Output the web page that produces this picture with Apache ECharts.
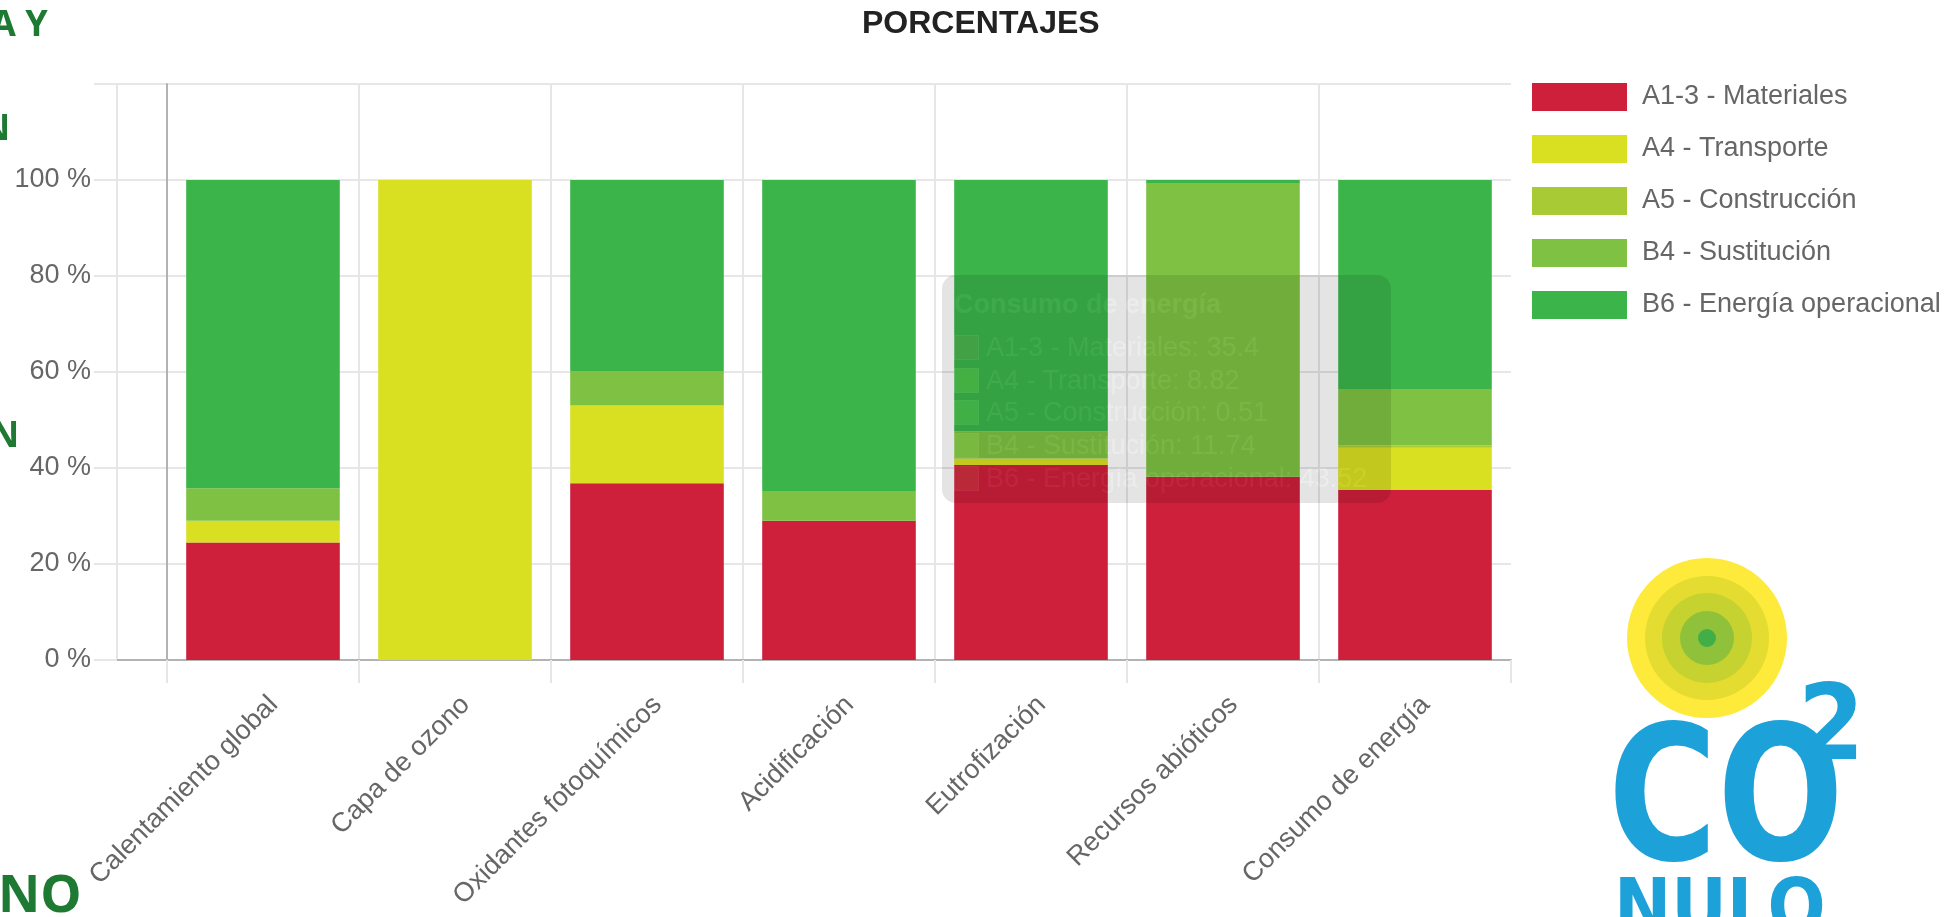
<!DOCTYPE html>
<html><head><meta charset="utf-8">
<script src="https://cdn.jsdelivr.net/npm/echarts@6/dist/echarts.min.js"></script>
<style>html,body{margin:0;padding:0;background:#fff;overflow:hidden}#c{width:1952px;height:917px}</style>
</head><body><div id="c"></div>
<script>
const categories = ['Calentamiento global', 'Capa de ozono', 'Oxidantes fotoquímicos', 'Acidificación', 'Eutrofización', 'Recursos abióticos', 'Consumo de energía'];
const seriesNames = ['A1-3 - Materiales', 'A4 - Transporte', 'A5 - Construcción', 'B4 - Sustitución', 'B6 - Energía operacional'];
const materiales   = [24.5, 0,   36.8, 29.0, 40.6, 38.2, 35.4];
const transporte   = [4.5,  100, 16.2, 0,    1.4,  0,    8.82];
const construccion = [0,    0,   0,    0,    0,    0,    0.51];
const sustitucion  = [6.8,  0,   7.2,  6.2,  5.6,  61.2, 11.74];
const energiaOp    = [64.2, 0,   39.8, 64.8, 52.4, 0.6,  43.52];
const yTickLabels  = ['0 %', '20 %', '40 %', '60 %', '80 %', '100 %', ''];
const colors = ['#CE1F3B', '#D9E021', '#A8CA35', '#7FC243', '#3BB54A'];
const values = [materiales, transporte, construccion, sustitucion, energiaOp];

const FONT = '"Liberation Sans", Arial, sans-serif';
const chart = echarts.init(document.getElementById('c'));
const grid = '#e6e6e6';
const vLineColors = [grid, grid, grid, grid, grid, grid, grid, 'rgba(0,0,0,0)'];

const option = {
  animation: false,
  textStyle: { fontFamily: FONT },
  title: {
    text: 'PORCENTAJES', left: 862, top: 0, padding: [8, 0, 0, 0],
    textStyle: { fontSize: 32, fontWeight: 'bold', color: '#222', fontFamily: FONT }
  },
  legend: {
    orient: 'vertical', left: 1532, top: 83, padding: 0,
    itemWidth: 95, itemHeight: 28, itemGap: 24, icon: 'rect',
    data: seriesNames,
    textStyle: { fontSize: 27, color: '#666', fontFamily: FONT, padding: [0, 0, 0, 10] }
  },
  tooltip: {
    trigger: 'axis', triggerOn: 'none', alwaysShowContent: true, transitionDuration: 0,
    axisPointer: { type: 'none' },
    backgroundColor: 'rgba(0,0,0,0.8)', borderWidth: 0, padding: [13, 24, 9, 12],
    extraCssText: 'opacity:0.13;box-shadow:none;border-radius:14px;',
    textStyle: { color: 'rgba(255,255,255,0.3)', fontSize: 27, fontFamily: FONT },
    position: function () { return [942, 275]; },
    formatter: function (params) {
      let h = '<div style="font-weight:bold;line-height:32px;margin-bottom:11px;color:rgba(255,255,255,0.3)">' + params[0].axisValue + '</div>';
      params.forEach(function (p) {
        h += '<div style="line-height:32.7px;height:32.7px;white-space:nowrap;color:rgba(255,255,255,0.3)">' +
          '<span style="display:inline-block;width:23px;height:23px;background:' + p.color +
          ';opacity:0.6;border:1px solid rgba(255,255,255,0.5);vertical-align:-4px;margin-right:7px"></span>' +
          p.seriesName + ': ' + p.value + '</div>';
      });
      return h;
    }
  },
  grid: [
    { left: 117, right: 441, top: 84, bottom: 257, outerBoundsMode: 'none', containLabel: false },
    { left: 167, right: 441, top: 84, bottom: 257, outerBoundsMode: 'none', containLabel: false }
  ],
  xAxis: [
    { gridIndex: 0, type: 'value', min: 0, max: 1, axisLabel: { show: false }, axisTick: { show: false },
      splitLine: { show: false }, axisLine: { show: true, onZero: false, lineStyle: { color: '#b3b3b3', width: 2 } } },
    { gridIndex: 1, type: 'category', data: categories, boundaryGap: true,
      axisLine: { show: false },
      axisTick: { show: true, length: 23, interval: 0, lineStyle: { color: grid, width: 2 } },
      splitLine: { show: true, interval: 0, lineStyle: { color: vLineColors, width: 2 } },
      axisLabel: { interval: 0, rotate: 45, margin: 30, verticalAlign: 'top', lineHeight: 30,
        fontSize: 27, color: '#666', fontFamily: FONT } }
  ],
  yAxis: [
    { gridIndex: 0, type: 'value', min: 0, max: 120, interval: 20,
      axisLine: { show: true, lineStyle: { color: grid, width: 2 } },
      axisTick: { show: true, length: 23, lineStyle: { color: grid, width: 2 } },
      splitLine: { show: true, lineStyle: { color: grid, width: 2 } },
      axisLabel: { margin: 26, fontSize: 27, color: '#666', fontFamily: FONT,
        formatter: function (v) { return yTickLabels[Math.round(v / 20)]; } } },
    { gridIndex: 1, type: 'value', min: 0, max: 120, interval: 20,
      axisLine: { show: true, lineStyle: { color: '#b3b3b3', width: 2 } },
      axisTick: { show: false }, splitLine: { show: false }, axisLabel: { show: false } }
  ],
  series: seriesNames.map(function (name, i) {
    return { name: name, type: 'bar', stack: 'total', xAxisIndex: 1, yAxisIndex: 1,
      barWidth: '80%', itemStyle: { color: colors[i] }, emphasis: { disabled: true },
      data: values[i] };
  }),
  graphic: [
    { type: 'text', x: -9, y: 26, style: { text: 'A Y', font: 'bold 36px "Open Sans"', fill: '#1E7A33', verticalAlign: 'middle' } },
    { type: 'text', x: -19, y: 130, style: { text: 'N', font: 'bold 36px "Open Sans"', fill: '#1E7A33', verticalAlign: 'middle' } },
    { type: 'text', x: -10, y: 437, style: { text: 'N', font: 'bold 36px "Open Sans"', fill: '#1E7A33', verticalAlign: 'middle' } },
    { type: 'text', x: -2, y: 897, style: { text: 'NO', font: 'bold 52px "Open Sans"', fill: '#1E7A33', verticalAlign: 'middle' } },
    { type: 'circle', shape: { cx: 1707, cy: 638, r: 80 }, style: { fill: '#FDEA3A' } },
    { type: 'circle', shape: { cx: 1707, cy: 638, r: 62 }, style: { fill: '#E4DC31' } },
    { type: 'circle', shape: { cx: 1707, cy: 638, r: 45 }, style: { fill: '#C6D22F' } },
    { type: 'circle', shape: { cx: 1707, cy: 638, r: 27 }, style: { fill: '#8FC13A' } },
    { type: 'circle', shape: { cx: 1707, cy: 638, r: 9 }, style: { fill: '#42AE48' } },
    { type: 'text', x: 1608, y: 810, scaleX: 0.88, style: { text: 'CO', font: 'bold 188px "DejaVu Sans Condensed", "DejaVu Sans"', fill: '#1DA1D9', verticalAlign: 'middle' } },
    { type: 'text', x: 1798, y: 731, style: { text: '2', font: 'bold 106px "DejaVu Sans Condensed", "DejaVu Sans"', fill: '#1DA1D9', verticalAlign: 'middle' } },
    { type: 'text', x: 1614, y: 913, style: { text: 'NULO', font: 'bold 76px "DejaVu Sans Condensed", "DejaVu Sans"', fill: '#1DA1D9', verticalAlign: 'middle' } }
  ]
};
chart.setOption(option);
chart.dispatchAction({ type: 'showTip', seriesIndex: 0, dataIndex: 6 });
</script></body></html>
